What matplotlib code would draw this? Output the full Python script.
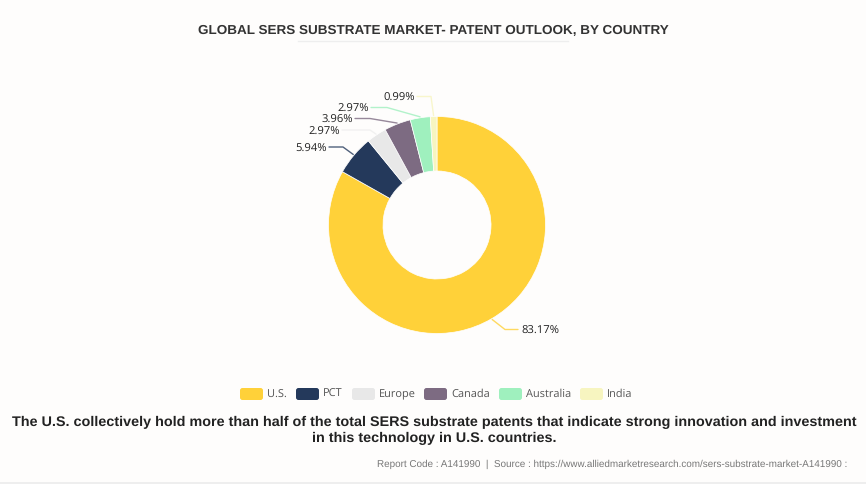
import matplotlib
matplotlib.use('Agg')
import matplotlib.pyplot as plt
from matplotlib.patches import Rectangle, FancyBboxPatch
import numpy as np

countries = ['U.S.', 'PCT', 'Europe', 'Canada', 'Australia', 'India']
shares = [83.17, 5.94, 2.97, 3.96, 2.97, 0.99]
colors = ['#FFD139', '#24395B', '#E8E8E8', '#7D6B82', '#9FF0BE', '#F7F5C0']
line_colors = ['#FFD139', '#24395B', '#EEEEEE', '#7D6B82', '#9FF0BE', '#F7F5C0']

title = 'GLOBAL SERS SUBSTRATE MARKET- PATENT OUTLOOK, BY COUNTRY'
caption = ('The U.S. collectively hold more than half of the total SERS substrate patents that indicate strong innovation and investment\n'
           'in this technology in U.S. countries.')
source = 'Report Code : A141990  |  Source : https://www.alliedmarketresearch.com/sers-substrate-market-A141990 :'

W, H = 866, 485
BG = '#FEFDFC'
TEXT = '#333333'

plt.rcParams['text.hinting'] = 'no_hinting'


def py(y):
    # picture coords have y going down
    return H - y


fig = plt.figure(figsize=(W / 100, H / 100), dpi=100, facecolor=BG)
ax = fig.add_axes([0, 0, 1, 1])
ax.set_xlim(0, W)
ax.set_ylim(0, H)
ax.axis('off')

cx, cy, r_out, r_in = 437, 226, 108.5, 54

wedges, _ = ax.pie(shares, colors=colors, startangle=90, counterclock=False,
                   center=(cx, py(cy)), radius=r_out, frame=False,
                   wedgeprops=dict(width=r_out - r_in, edgecolor='white', linewidth=0.5))
ax.set_xlim(0, W)
ax.set_ylim(0, H)
ax.set_aspect('auto')

# label anchor (text end) and elbow for each leader line, pixels
label_x = [521, 327, 340, 353, 369, 415]
label_y = [330.5, 148, 131, 119.5, 108.5, 97.5]
elbow_x = [505, 343, 370, 370, 387, 431]
outer_pad = 1.0

for i, w in enumerate(wedges):
    mid = np.deg2rad((w.theta1 + w.theta2) / 2)
    sx = cx + (r_out + outer_pad) * np.cos(mid)
    sy = cy - (r_out + outer_pad) * np.sin(mid)
    right = i == 0
    end_x = label_x[i] - 3 if right else label_x[i] + 2
    ax.plot([sx, elbow_x[i], end_x], [py(sy), py(label_y[i]), py(label_y[i])],
            color=line_colors[i], lw=1, alpha=0.8, solid_capstyle='round', zorder=1)
    ax.text(label_x[i], py(label_y[i] + 0.7), f'{shares[i]:.2f}%', fontsize=8.1, color='#222222',
            family='Open Sans', va='center', ha='left' if right else 'right')

# title and its faint underline
ax.text(433, py(30.5), title, fontsize=9.7, fontweight='bold', color=TEXT,
        family='Liberation Sans', ha='center', va='center')
ax.plot([298, 568], [py(42), py(42)], color='#EEEEEE', lw=1)

# legend
swatch_x = [240, 296, 352, 424, 499, 580]
text_x = [267, 323, 379, 451, 526, 607]
for x, tx, c, name in zip(swatch_x, text_x, colors, countries):
    ax.add_patch(FancyBboxPatch((x, py(401)), 23, 12, boxstyle='round,pad=0,rounding_size=2.5',
                                fc=c, ec='none'))
    ax.text(tx, py(394.5), name, fontsize=7.9, color='#555555', family='Open Sans',
            va='center', ha='left')

ax.text(434.5, py(430.5), caption, fontsize=10.35, fontweight='bold', color='#222222',
        family='Liberation Sans', ha='center', va='center', linespacing=1.35)
ax.text(847, py(464.5), source, fontsize=7.1, color='#777777', family='Liberation Sans',
        ha='right', va='center')

ax.add_patch(Rectangle((0, 0), W, 2, fc='#EEEEEE', ec='none'))

fig.savefig('out.png', dpi=100, facecolor=BG)
